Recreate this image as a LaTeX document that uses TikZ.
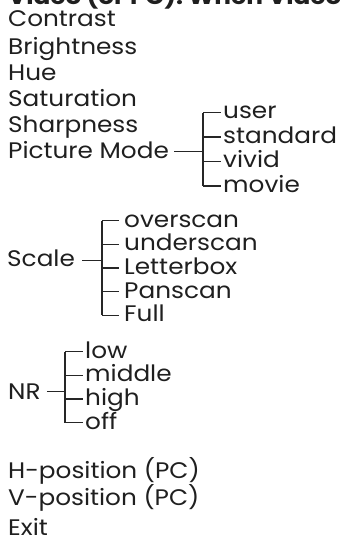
\documentclass[tikz,border=0pt]{standalone}
\usepackage{fontspec}
\setmainfont{Poppins}[FakeStretch=1.1]
\begin{document}
\begin{tikzpicture}[x=1pt,y=-1pt,
  lbl/.style={anchor=base west,inner sep=0pt,font=\fontsize{22.5}{24}\selectfont,text=black!88},
  br/.style={draw=black!85,line width=1.3pt}]
\useasboundingbox (0,0) rectangle (340,539);
\clip (0,0) rectangle (340,539);
\node[lbl,font=\fontsize{22.5}{24}\selectfont\bfseries] (title) at (8,4.5) {Video (or PC): When Video};
\node[lbl] (contrast) at (8,26.7) {Contrast};
\node[lbl] (bright) at (8,54) {Brightness};
\node[lbl] (hue) at (8,80.5) {Hue};
\node[lbl] (sat) at (8,106) {Saturation};
\node[lbl] (sharp) at (8,132) {Sharpness};
\node[lbl] (pm) at (8,158) {Picture Mode};
% picture mode options
\node[lbl] (user) at (223,118.5) {user};
\node[lbl] (std) at (223,143) {standard};
\node[lbl] (vivid) at (223,167.5) {vivid};
\node[lbl] (movie) at (223,192) {movie};
\coordinate (pmj) at (203,151.7);
\draw[br] ([xshift=5pt]pm.east |- pmj) -- (pmj);
\draw[br] (pmj |- 0,112.5) -- (pmj |- 0,186);
\foreach \n in {user,std,vivid,movie}
  \draw[br] ([yshift=6pt]\n.base west -| pmj) -- ([xshift=-2pt,yshift=6pt]\n.base west);
% scale
\node[lbl] (scale) at (7,266.7) {Scale};
\node[lbl] (over) at (124,227) {overscan};
\node[lbl] (under) at (124,250.7) {underscan};
\node[lbl] (letter) at (124,274.4) {Letterbox};
\node[lbl] (pan) at (124,298.1) {Panscan};
\node[lbl] (full) at (124,321.8) {Full};
\coordinate (scj) at (102,260.7);
\draw[br] ([xshift=7pt]scale.east |- scj) -- (scj);
\draw[br] (scj |- 0,220.5) -- (scj |- 0,315.3);
\foreach \n in {over,under,letter,pan,full}
  \draw[br] ([yshift=6.5pt]\n.base west -| scj) -- ([xshift=-5pt,yshift=6.5pt]\n.base west);
% NR
\node[lbl] (nr) at (8,399) {NR};
\node[lbl] (low) at (85,358) {low};
\node[lbl] (mid) at (85,381.7) {middle};
\node[lbl] (high) at (85,405.4) {high};
\node[lbl] (off) at (85,429.1) {off};
\coordinate (nrj) at (65,391.7);
\draw[br] ([xshift=6pt]nr.east |- nrj) -- (nrj);
\draw[br] (nrj |- 0,351.5) -- (nrj |- 0,422.6);
\foreach \n in {low,mid,high,off}
  \draw[br] ([yshift=6.5pt]\n.base west -| nrj) -- ([xshift=-2pt,yshift=6.5pt]\n.base west);
% rest
\node[lbl] (hpos) at (8,478) {H-position (PC)};
\node[lbl] (vpos) at (8,505) {V-position (PC)};
\node[lbl] (exit) at (8,535) {Exit};
\end{tikzpicture}
\end{document}
